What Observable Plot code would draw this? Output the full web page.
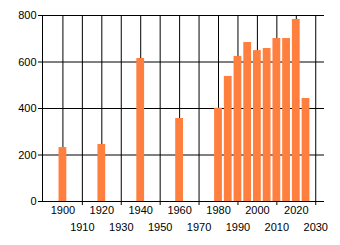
<!DOCTYPE html>
<html>
<head>
<meta charset="utf-8">
<script src="https://cdn.jsdelivr.net/npm/d3@7"></script>
<script src="https://cdn.jsdelivr.net/npm/@observablehq/plot@0.6"></script>
<style>
  html, body { margin: 0; padding: 0; background: #fff; }
  #chart svg { display: block; }
</style>
</head>
<body>
<div id="chart"></div>
<script>
const years  = [1900, 1920, 1940, 1960, 1980, 1985, 1990, 1995, 2000, 2005, 2010, 2015, 2020, 2025];
const values = [232, 245, 615, 357, 401, 538, 624, 684, 649, 658, 701, 701, 783, 443];
const yTicks = [0, 200, 400, 600, 800];
const xTopLabels = [1900, 1920, 1940, 1960, 1980, 2000, 2020];
const xBottomLabels = [1910, 1930, 1950, 1970, 1990, 2010, 2030];
const xGrid = [1900, 1910, 1920, 1930, 1940, 1950, 1960, 1970, 1980, 1990, 2000, 2010, 2020, 2030];
const xDomain = [1889.5, 2034.5];
const yDomain = [0, 800];

const data = years.map((year, i) => ({year, value: values[i]}));
const font = "Liberation Sans, Arial, sans-serif";

const chart = Plot.plot({
  width: 340,
  height: 245,
  marginLeft: 42,
  marginRight: 16,
  marginTop: 15,
  marginBottom: 44,
  style: {fontFamily: font, fontSize: "11px", color: "black", background: "white"},
  x: {domain: xDomain, axis: null},
  y: {domain: yDomain, axis: null},
  marks: [
    Plot.gridX(xGrid, {stroke: "black", strokeOpacity: 1, strokeWidth: 1}),
    Plot.gridY(yTicks, {stroke: "black", strokeOpacity: 1, strokeWidth: 1}),
    Plot.ruleX([xDomain[0]], {stroke: "black"}),
    Plot.rectY(data, {x1: d => d.year - 2, x2: d => d.year + 2, y: "value", fill: "#ff7f3f"}),
    Plot.axisY(yTicks, {anchor: "left", tickSize: 4, tickPadding: 2, tickFormat: d => String(d), fontSize: 11, fill: "black", label: null}),
    Plot.axisX(xTopLabels, {anchor: "bottom", tickSize: 0, tickPadding: 5, tickFormat: d => String(d), fontSize: 11, fill: "black", label: null}),
    Plot.axisX(xBottomLabels, {anchor: "bottom", tickSize: 4, tickPadding: 18, tickFormat: d => String(d), fontSize: 11, fill: "black", label: null})
  ]
});
document.getElementById("chart").appendChild(chart);
</script>
</body>
</html>
